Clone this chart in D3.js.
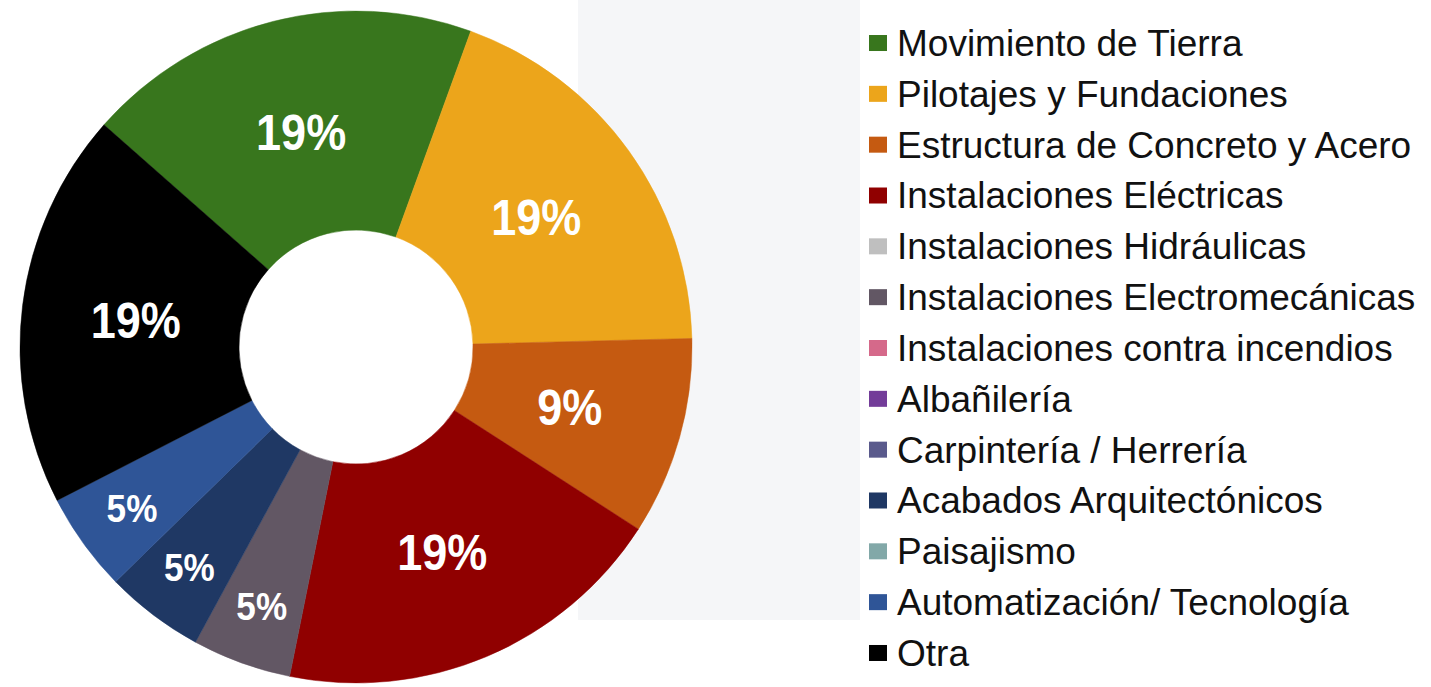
<!DOCTYPE html>
<html>
<head>
<meta charset="utf-8">
<script src="https://cdn.jsdelivr.net/npm/d3@7"></script>
<style>
  body { margin: 0; background: #fff; }
  svg { display: block; font-family: "Liberation Sans", Arial, sans-serif; }
</style>
</head>
<body>
<svg id="chart"></svg>
<script>
// categories in legend order (also clockwise order of the donut)
const categories = ["Movimiento de Tierra", "Pilotajes y Fundaciones", "Estructura de Concreto y Acero",
  "Instalaciones Eléctricas", "Instalaciones Hidráulicas", "Instalaciones Electromecánicas",
  "Instalaciones contra incendios", "Albañilería", "Carpintería / Herrería",
  "Acabados Arquitectónicos", "Paisajismo", "Automatización/ Tecnología", "Otra"];
// response counts (4/21 = 19%, 2/21 = 9%, 1/21 = 5%)
const counts = [4, 4, 2, 4, 0, 1, 0, 0, 0, 1, 0, 1, 4];
const colors = ["#38761d", "#eca51b", "#c55a11", "#900000", "#bfbfbf", "#625764",
  "#d5698a", "#733c99", "#5a5a8c", "#1f3864", "#82a8a8", "#2f5597", "#000000"];

const width = 1431, height = 687;
const cx = 356, cy = 347;
const outerR = 336, innerR = 117;

const svg = d3.select("#chart")
  .attr("width", width)
  .attr("height", height);

// faint watermark panel behind the legend
svg.append("rect")
  .attr("x", 578).attr("y", 0)
  .attr("width", 282).attr("height", 620)
  .attr("fill", "#f5f6f8");

const data = categories.map((c, i) => ({ name: c, value: counts[i], color: colors[i] }));
const total = d3.sum(counts);

// whole percentages that add up to 100 (largest remainder)
const raw = counts.map(v => v / total * 100);
const pct = raw.map(Math.floor);
let left = 100 - d3.sum(pct);
d3.range(raw.length)
  .filter(i => counts[i] > 0)
  .sort((a, b) => (raw[b] - pct[b]) - (raw[a] - pct[a]))
  .forEach(i => { if (left > 0) { pct[i]++; left--; } });
data.forEach((d, i) => d.pct = pct[i]);

const pie = d3.pie()
  .sort(null)
  .value(d => d.value)
  .startAngle(-48.6 * Math.PI / 180)
  .endAngle(-48.6 * Math.PI / 180 + 2 * Math.PI);

const arc = d3.arc().innerRadius(innerR).outerRadius(outerR);

const g = svg.append("g").attr("transform", `translate(${cx},${cy})`);

const arcs = pie(data).filter(d => d.data.value > 0);

g.selectAll("path.slice")
  .data(arcs)
  .enter()
  .append("path")
  .attr("class", "slice")
  .attr("d", arc)
  .attr("fill", d => d.data.color)
  .attr("stroke", d => d.data.color)
  .attr("stroke-width", 0.5);

// small slices get their label pushed outward
const isSmall = d => d.data.value / total < 0.07;
const labelR = d => isSmall(d) ? 276 : 222;
const fontSize = d => isSmall(d) ? 39 : 50;

g.selectAll("text.pct")
  .data(arcs)
  .enter()
  .append("text")
  .attr("class", "pct")
  .attr("transform", d => {
    const a = (d.startAngle + d.endAngle) / 2;
    return `translate(${Math.sin(a) * labelR(d)},${-Math.cos(a) * labelR(d)}) scale(0.9,1)`;
  })
  .attr("text-anchor", "middle")
  .attr("dy", "0.36em")
  .attr("fill", "#fff")
  .attr("font-weight", "bold")
  .attr("font-size", d => fontSize(d) + "px")
  .text(d => d.data.pct + "%");

// legend
const legendY = d3.scaleBand()
  .domain(categories)
  .range([17.6, 678.4]);

const legend = svg.append("g").attr("transform", "translate(869,0)");

const rows = legend.selectAll("g.row")
  .data(data)
  .enter()
  .append("g")
  .attr("class", "row")
  .attr("transform", d => `translate(0,${legendY(d.name) + legendY.bandwidth() / 2})`);

rows.append("rect")
  .attr("x", 0)
  .attr("y", -8)
  .attr("width", 18)
  .attr("height", 16)
  .attr("fill", d => d.color);

rows.append("text")
  .attr("x", 28)
  .attr("dy", "0.35em")
  .attr("font-size", "37px")
  .attr("fill", "#111")
  .text(d => d.name);
</script>
</body>
</html>
